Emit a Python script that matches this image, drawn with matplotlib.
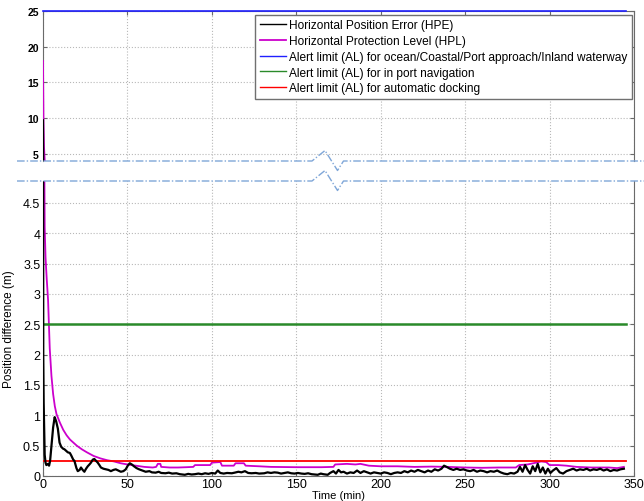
import matplotlib
matplotlib.use('Agg')
import matplotlib.pyplot as plt
from matplotlib.lines import Line2D
from matplotlib.ticker import FormatStrFormatter

plt.rcParams['font.family'] = ['Liberation Sans', 'DejaVu Sans']

# time (min) / horizontal position error (m)
hpe_t = [0, 0.15, 0.4, 0.7, 1.0, 1.5, 2.0, 3.0, 3.6, 4.2, 5.0, 6.0, 6.9, 7.8, 8.8,
         9.8, 10.8, 11.9, 12.7, 13.9, 14.7, 15.9, 16.7, 17.9, 18.6, 19.8, 20.6, 21.7,
         22.5, 23.5, 24.5, 25.5, 26.5, 27.5, 28.4, 29.5, 30.4, 31.4, 32.4, 33.4, 34.3,
         35.8, 37.3, 38.8, 40.2, 41.7, 43.1, 44.6, 46.1, 47.6, 49.0, 50.2, 51.4, 52.6,
         53.9, 55.4, 56.9, 58.8, 60.8, 63, 64.5, 66.7, 68.5, 70, 72.5, 74.5, 76.5, 79,
         81, 84, 86, 88, 90, 92, 94, 96, 98, 100, 102, 103.5, 105, 107, 109, 111.8,
         113.5, 115.7, 117.5, 119.6, 121.5, 123.5, 126, 128, 131, 133, 135, 137, 139,
         141, 143, 145, 147, 149, 151, 153, 155, 157, 159, 161, 162.7, 164.5, 166,
         168.6, 170, 172, 173.5, 175, 176.5, 178, 180, 182, 184, 186, 188, 190, 192,
         194, 196, 198, 200, 202, 204, 206, 208, 210, 212, 214, 216, 218, 220, 222,
         224, 226, 228, 230, 232, 234, 236, 237.5, 239, 241, 243, 245, 247, 249, 251,
         253, 255, 257, 259, 261, 263, 265, 267, 269, 271, 273, 275, 277, 279, 281,
         282.5, 284, 285.5, 287, 288.5, 290, 291.5, 293, 294.5, 296, 297.5, 299,
         300.5, 302, 304, 306, 308, 310, 312, 314, 316, 318, 320, 322, 324, 326, 328,
         330, 332, 334, 336, 338, 340, 342, 344]
hpe_m = [9.7, 2.0, 1.2, 0.75, 0.35, 0.22, 0.18, 0.2, 0.17, 0.25, 0.5, 0.8, 0.97, 0.9, 0.78,
         0.55, 0.48, 0.45, 0.44, 0.41, 0.39, 0.38, 0.34, 0.27, 0.25, 0.13, 0.08, 0.1,
         0.14, 0.1, 0.07, 0.12, 0.16, 0.19, 0.22, 0.27, 0.28, 0.25, 0.22, 0.18, 0.14,
         0.12, 0.11, 0.1, 0.08, 0.1, 0.11, 0.09, 0.07, 0.08, 0.11, 0.17, 0.21, 0.19,
         0.16, 0.13, 0.11, 0.09, 0.07, 0.08, 0.06, 0.055, 0.07, 0.05, 0.045, 0.055, 0.04, 0.045,
         0.03, 0.02, 0.035, 0.025, 0.03, 0.04, 0.03, 0.045, 0.035, 0.05, 0.04, 0.09, 0.05, 0.04, 0.05, 0.045,
         0.055, 0.07, 0.06, 0.08, 0.05, 0.045, 0.05, 0.04, 0.045, 0.06, 0.05, 0.06, 0.055,
         0.04, 0.05, 0.06, 0.045, 0.04, 0.05, 0.04, 0.035, 0.045, 0.03, 0.025, 0.02, 0.04, 0.03,
         0.02, 0.05, 0.08, 0.04, 0.1, 0.06, 0.07, 0.04, 0.06, 0.05, 0.09, 0.05, 0.08, 0.06,
         0.04, 0.06, 0.05, 0.04, 0.06, 0.05, 0.03, 0.05, 0.06, 0.05, 0.08, 0.06, 0.09, 0.07, 0.1,
         0.08, 0.06, 0.09, 0.07, 0.11, 0.09, 0.12, 0.17, 0.15, 0.12, 0.1, 0.12, 0.1, 0.11, 0.09,
         0.08, 0.1, 0.07, 0.09, 0.08, 0.06, 0.08, 0.07, 0.09, 0.06, 0.04, 0.03, 0.05, 0.04, 0.07,
         0.15, 0.07, 0.18, 0.1, 0.04, 0.16, 0.08, 0.2, 0.06, 0.14, 0.04, 0.12,
         0.05, 0.09, 0.13, 0.06, 0.04, 0.08, 0.1, 0.12, 0.09, 0.11, 0.1, 0.12, 0.09, 0.11, 0.1,
         0.12, 0.09, 0.11, 0.08, 0.1, 0.09, 0.11, 0.12]

# time (min) / horizontal protection level (m)
hpl_t = [0, 0.3, 0.6, 1.0, 1.5, 2.2, 3.0, 4.0, 5.0, 6.0, 7.0, 8.0, 10, 12, 14, 16, 18,
         20, 23, 26, 30, 34, 38, 42, 46, 50, 55, 60, 65, 67, 68, 69.5, 70, 75, 80, 85,
         89, 90, 99, 100, 105, 106, 113, 114, 119, 120, 128, 135, 150, 165, 172, 173,
         180, 185, 188, 193, 200, 210, 220, 230, 240, 250, 260, 270, 280, 282, 287,
         292, 295, 298, 300, 305, 310, 316, 325, 335, 340, 344]
hpl_m = [18.0, 9.5, 6.0, 4.1, 3.6, 3.25, 2.9, 2.1, 1.65, 1.35, 1.15, 1.02, 0.88, 0.76, 0.67,
         0.6, 0.55, 0.5, 0.44, 0.39, 0.33, 0.29, 0.26, 0.24, 0.21, 0.19, 0.17, 0.15, 0.14,
         0.15, 0.2, 0.2, 0.15, 0.14, 0.14, 0.145, 0.15, 0.18, 0.18, 0.22, 0.23, 0.17, 0.17,
         0.21, 0.21, 0.17, 0.16, 0.15, 0.145, 0.145, 0.15, 0.19, 0.2, 0.19, 0.2, 0.17, 0.16,
         0.16, 0.15, 0.155, 0.15, 0.14, 0.135, 0.14, 0.14, 0.18, 0.19, 0.22, 0.24, 0.23,
         0.18, 0.18, 0.17, 0.15, 0.14, 0.14, 0.13, 0.15]

# alert limits (m) over the whole run
al_t = [0, 345]
al_ocean = 25
al_port = 2.5
al_docking = 0.25

labels = ['Horizontal Position Error (HPE)',
          'Horizontal Protection Level (HPL)',
          'Alert limit (AL) for ocean/Coastal/Port approach/Inland waterway',
          'Alert limit (AL) for in port navigation',
          'Alert limit (AL) for automatic docking']

W, H = 644, 502
fig = plt.figure(figsize=(W / 100, H / 100), dpi=100)

x0, x1 = 43, 634
top_y0, top_y1 = 12, 162
bot_y0, bot_y1 = 182, 477
ax_top = fig.add_axes([x0 / W, 1 - top_y1 / H, (x1 - x0) / W, (top_y1 - top_y0) / H])
ax_bot = fig.add_axes([x0 / W, 1 - bot_y1 / H, (x1 - x0) / W, (bot_y1 - bot_y0) / H])

spine_col = '#6a6a6a'
for ax in (ax_top, ax_bot):
    ax.plot(hpe_t, hpe_m, color='black', lw=1.6, zorder=4)
    ax.plot(hpl_t, hpl_m, color='#cc00cc', lw=1.3, zorder=3)
    ax.plot(al_t, [al_port] * 2, color='#2a8a2a', lw=1.8, zorder=3)
    ax.plot(al_t, [al_docking] * 2, color='#ff0000', lw=1.3, zorder=3)
    ax.set_xlim(0, 350)
    ax.set_xticks(range(0, 351, 50))
    ax.grid(True, linestyle=':', color='#b8b8b8', linewidth=0.8)
    ax.set_axisbelow(True)
    for s in ax.spines.values():
        s.set_color(spine_col)
        s.set_linewidth(0.8)
    ax.tick_params(direction='in', length=3, color=spine_col, right=True, width=0.8)

# the 25 m limit sits on the top edge, so let it draw over the frame
ax_top.plot(al_t, [al_ocean] * 2, color='#2020ff', lw=1.2, zorder=5, clip_on=False)

# upper part of the broken axis
ax_top.set_ylim(4.0, 25)
ax_top.set_yticks([5, 10, 15, 20, 25])
ax_top.spines['bottom'].set_visible(False)
ax_top.tick_params(axis='x', bottom=False, top=True, labelbottom=False)
ax_top.tick_params(axis='y', labelsize=7.5, pad=3)
for lb in ax_top.get_yticklabels():
    lb.set_fontweight('bold')

# lower part of the broken axis
ax_bot.set_ylim(0, 4.86)
ax_bot.set_yticks([0, 0.5, 1, 1.5, 2, 2.5, 3, 3.5, 4, 4.5])
ax_bot.yaxis.set_major_formatter(FormatStrFormatter('%g'))
ax_bot.spines['top'].set_visible(False)
ax_bot.tick_params(axis='x', top=False, labelsize=9, pad=1.5)
ax_bot.tick_params(axis='y', labelsize=9, pad=2)
ax_bot.set_xlabel('Time (min)', fontsize=8, va='top')
ax_bot.xaxis.set_label_coords(0.5, -(491 - bot_y1) / (bot_y1 - bot_y0))
ax_bot.set_ylabel('Position difference (m)', fontsize=8.5)
ax_bot.yaxis.set_label_coords(-0.047, 0.5)

handles = [Line2D([], [], color=c, lw=lw) for c, lw in
           [('black', 1.0), ('#cc00cc', 1.3), ('#2020ff', 1.0), ('#2a8a2a', 1.0), ('#ff0000', 1.0)]]
leg = ax_top.legend(handles, labels, loc='upper right',
                    bbox_to_anchor=((632 - x0) / (x1 - x0), 1 - (16 - top_y0) / (top_y1 - top_y0)),
                    borderaxespad=0, fontsize=8.6, fancybox=False, framealpha=1,
                    edgecolor='#707070', labelspacing=0.32, handlelength=2.2,
                    handletextpad=0.3, borderpad=0.35)
leg.get_frame().set_linewidth(1.0)
leg.set_zorder(10)

# break marks between the two parts
def break_line(yp):
    xs = [17, 312, 325, 337.5, 343.5, W]
    ys = [yp, yp, yp - 10.5, yp + 9.5, yp, yp]
    ln = Line2D([x / W for x in xs], [1 - y / H for y in ys], transform=fig.transFigure,
                color='#7fa6d8', lw=1.0, dashes=(5.5, 1.5, 1, 1.5))
    fig.add_artist(ln)

break_line(top_y1)
break_line(bot_y0)

fig.savefig('out.png', dpi=100)
